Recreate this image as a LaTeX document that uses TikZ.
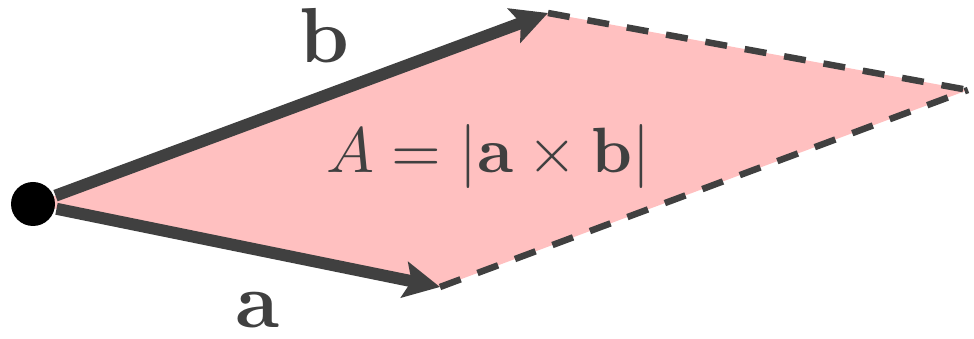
\documentclass[tikz,border=0pt]{standalone}
\usetikzlibrary{arrows.meta}
\definecolor{vecgray}{HTML}{404040}
\definecolor{areapink}{HTML}{FFC0C0}
\tikzset{
  vecline/.style={vecgray, line width=12pt, -{Stealth[length=36pt,width=36pt,inset=7pt]}, shorten <=24pt},
  dashline/.style={vecgray, line width=6.5pt, dash pattern=on 22pt off 18pt},
  biglabel/.style={text=vecgray, font=\fontsize{10}{12}\selectfont, inner sep=0pt, scale=7.8, transform shape},
  eqlabel/.style={text=vecgray, font=\fontsize{10}{12}\selectfont, inner sep=0pt, scale=6.4, transform shape},
}
\begin{document}
\begin{tikzpicture}[x=1pt,y=1pt]
\useasboundingbox (0,0) rectangle (974,339);
\coordinate (O) at (33,135);
\coordinate (TA) at (440,52);
\coordinate (TB) at (548,326);
\coordinate (F) at (968,249);
\fill[areapink] (O) -- (TA) -- (F) -- (TB) -- cycle;
\draw[dashline] (TA) -- (F);
\draw[dashline] (TB) -- (F);
\draw[vecline] (O) -- (TA);
\draw[vecline] (O) -- (TB);
\fill[black] (O) circle (22);
\node[biglabel] (lb) at (324,304) {$\mathbf{b}$};
\node[biglabel] (la) at (257,29) {$\mathbf{a}$};
\node[eqlabel, anchor=base] (lA) at (488,166) {$A=|\mathbf{a}\times\mathbf{b}|$};
\end{tikzpicture}
\end{document}
